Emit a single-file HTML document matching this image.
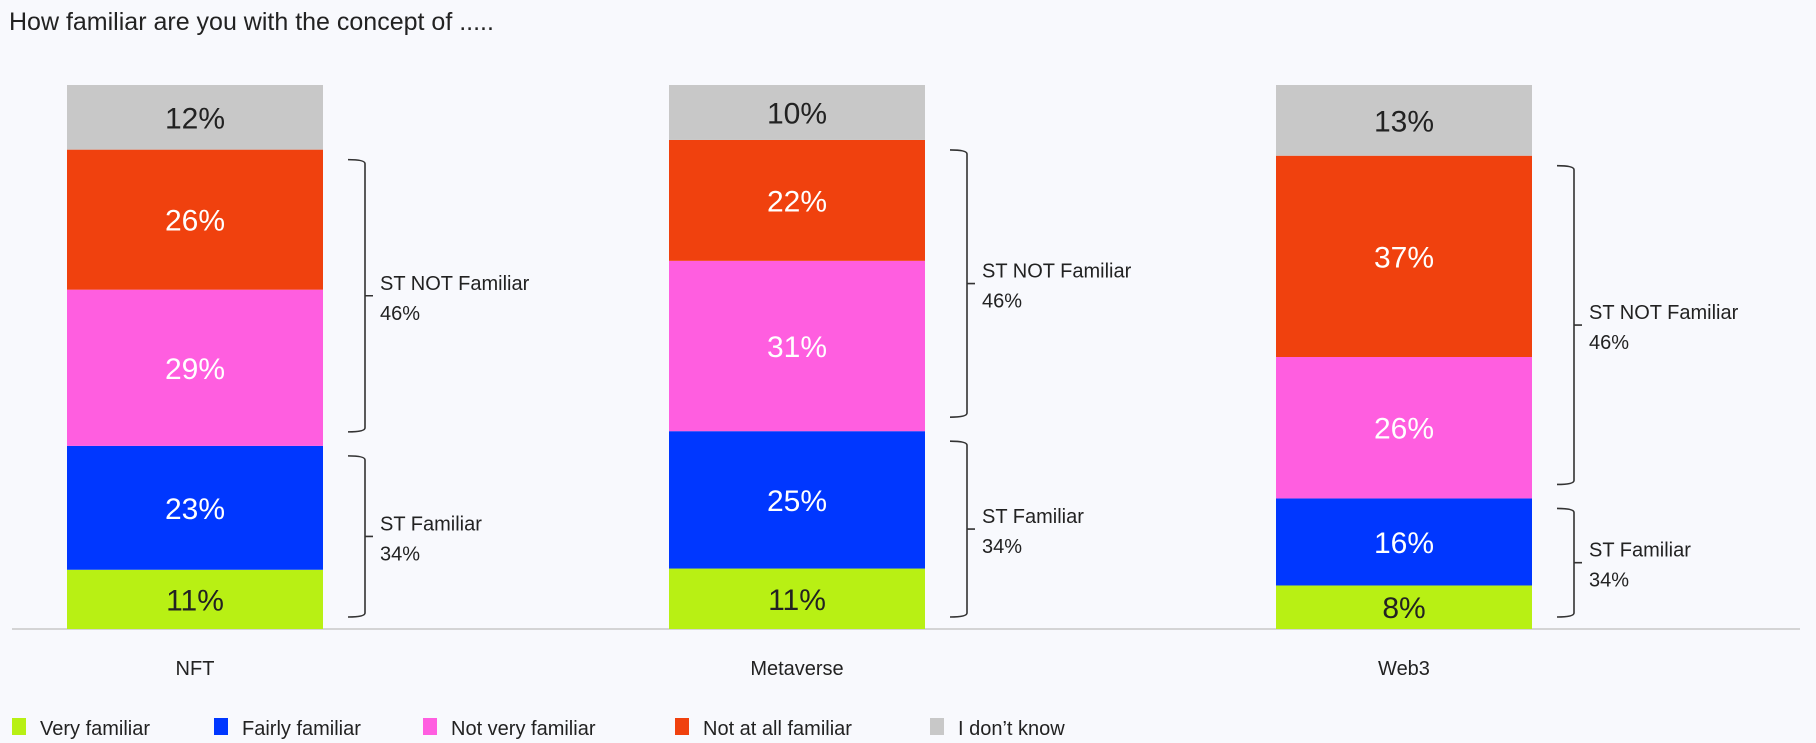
<!DOCTYPE html>
<html><head><meta charset="utf-8"><style>
html,body{margin:0;padding:0;background:#f8f9fd;}
svg{display:block;font-family:"Liberation Sans",sans-serif;}
.n{font-family:"Liberation Sans Narrow","Liberation Sans",sans-serif;}
</style></head><body>
<svg id="c" width="1816" height="743" viewBox="0 0 1816 743">
<text x="9" y="30" font-size="25" fill="#222">How familiar are you with the concept of .....</text>
<line x1="12" y1="629" x2="1800" y2="629" stroke="#c8c8c8" stroke-width="1.5"/>
<g id="bars"></g>
<g id="legend"></g>
</svg>
<script>
const categories = ["NFT", "Metaverse", "Web3"];
const seriesNames = ["Very familiar", "Fairly familiar", "Not very familiar", "Not at all familiar", "I don't know"];
const veryFamiliar = [11, 11, 8];
const fairlyFamiliar = [23, 25, 16];
const notVeryFamiliar = [29, 31, 26];
const notAtAll = [26, 22, 37];
const dontKnow = [12, 10, 13];
const stFamiliar = [34, 34, 34];
const stNotFamiliar = [46, 46, 46];

const NS = "http://www.w3.org/2000/svg";
const colors = ["#b8f014", "#0037ff", "#ff5ee0", "#f0410e", "#c8c8c8"];
const textColors = ["#222", "#fff", "#fff", "#fff", "#222"];
const series = [veryFamiliar, fairlyFamiliar, notVeryFamiliar, notAtAll, dontKnow];
const barLeft = [67, 669, 1276], barW = 256, yTop = 85, yBot = 629;
function mk(tag, attrs, parent){const e=document.createElementNS(NS,tag);for(const k in attrs)e.setAttribute(k,attrs[k]);parent.appendChild(e);return e;}
const bars = document.getElementById("bars");
function bracket(x, y1, y2, l1, l2, name){
  const g = mk("g", {}, bars);
  
  
  const xv = x + 17;
  mk("path", {d:`M${x} ${y1} Q${xv} ${y1} ${xv} ${y1+4} L${xv} ${y2-4} Q${xv} ${y2} ${x} ${y2} M${xv} ${(y1+y2)/2} L${xv+8} ${(y1+y2)/2}`, fill:"none", stroke:"#333", "stroke-width":1.6}, g);
  const t = mk("text", {x: xv+15, y:(y1+y2)/2 - 6, "font-size":20, fill:"#222", class:"n"}, g);
  t.textContent = l1;
  const t2 = mk("text", {x: xv+15, y:(y1+y2)/2 + 24, "font-size":20, fill:"#222", class:"n"}, g);
  t2.textContent = l2;
}
categories.forEach((cat, i) => {
  const total = series.reduce((s, a) => s + a[i], 0);
  const sc = (yBot - yTop) / total;
  let y = yBot;
  const segY = [];
  series.forEach((arr, k) => {
    const h = arr[i] * sc;
    const r = mk("rect", {x: barLeft[i], y: y - h, width: barW, height: h, fill: colors[k]}, bars);
    
    
    const t = mk("text", {x: barLeft[i] + barW/2, y: y - h/2 + 11, "font-size": 30, "text-anchor": "middle", fill: textColors[k], class:"n"}, bars);
    
    
    t.textContent = arr[i] + "%";
    segY.push([y - h, y]);
    y -= h;
  });
  const bx = barLeft[i] + barW + 25;
  bracket(bx, segY[3][0] + 10, segY[2][1] - 14, "ST NOT Familiar", stNotFamiliar[i] + "%", "bracket-st-not-familiar");
  bracket(bx, segY[1][0] + 10, yBot - 12, "ST Familiar", stFamiliar[i] + "%", "bracket-st-familiar");
  const cl = mk("text", {x: barLeft[i] + barW/2, y: 675, "font-size": 20, "text-anchor": "middle", fill: "#222", class:"n"}, bars);
  
  
  cl.textContent = cat;
});
const lg = document.getElementById("legend");
const lx = [12, 214, 423, 675, 930];
seriesNames.forEach((n, k) => {
  const g = mk("g", {}, lg);
  
  
  mk("rect", {x: lx[k], y: 718, width: 14, height: 17, fill: colors[k]}, g);
  const t = mk("text", {x: lx[k] + 28, y: 735, "font-size": 20, fill: "#222", class:"n"}, g);
  t.textContent = n === "I don't know" ? "I don\u2019t know" : n;
});
</script>
</body></html>
